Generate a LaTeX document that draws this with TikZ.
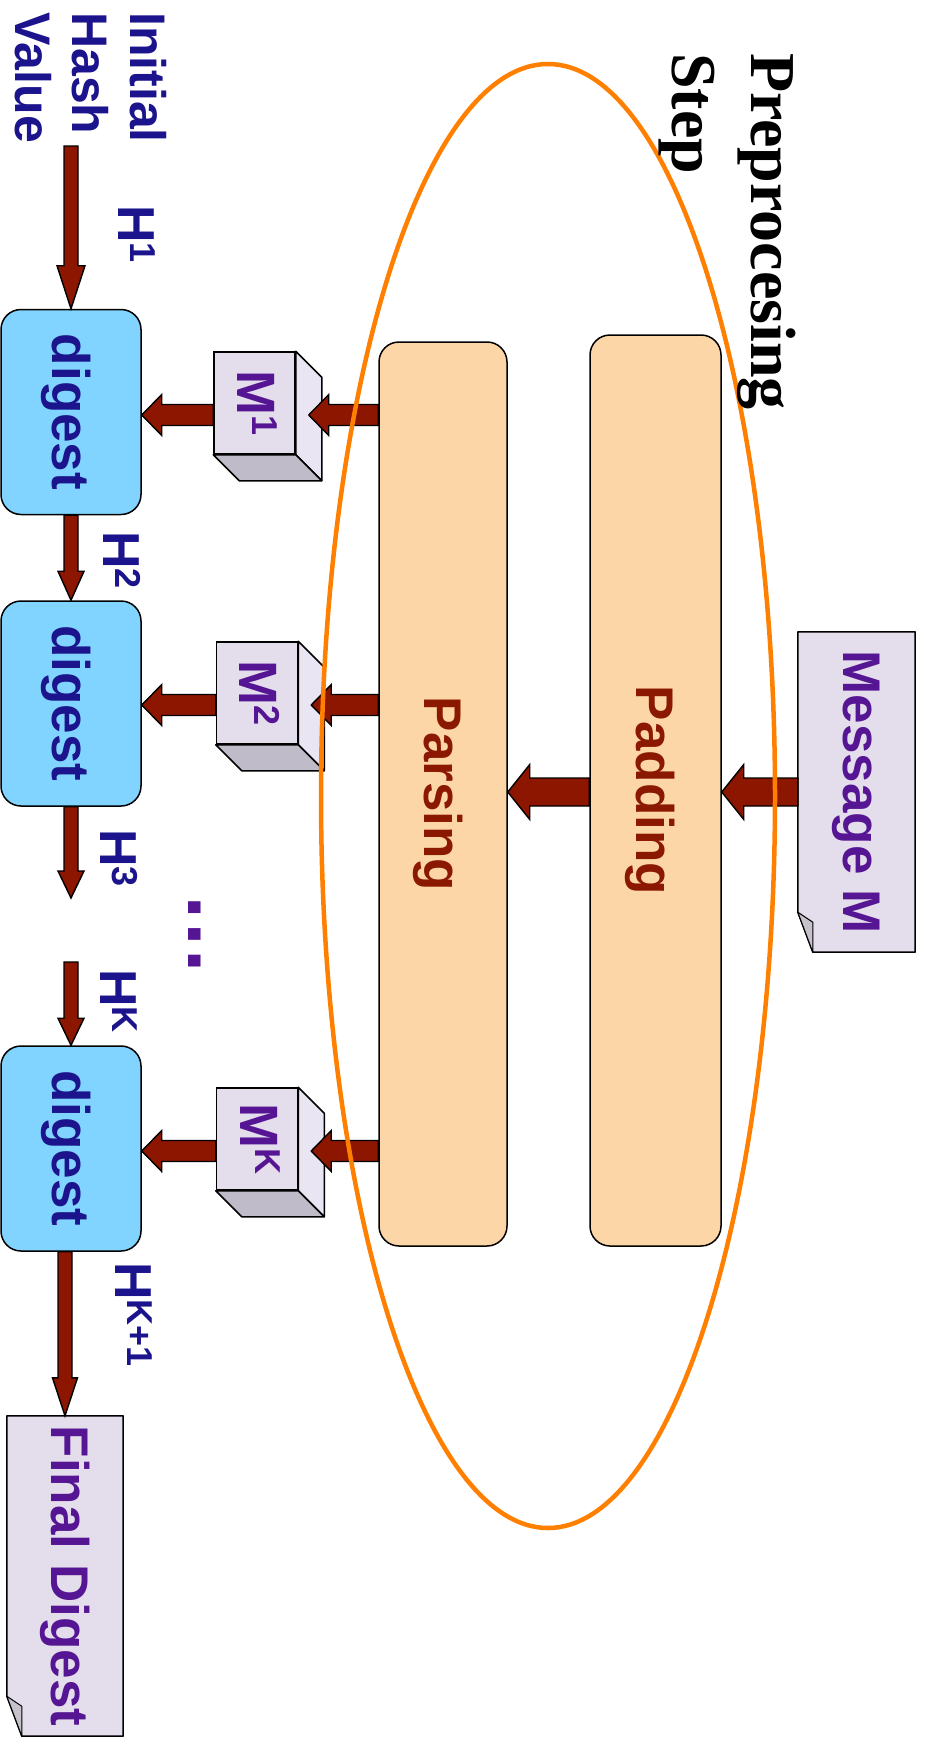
\documentclass[tikz,border=0pt]{standalone}
\usepackage{fontspec}
\setmainfont{Liberation Sans}
\newfontfamily\titleserif{Liberation Serif}
\usetikzlibrary{calc,shapes.geometric}

\definecolor{hvnavy}{RGB}{28,20,140}
\definecolor{hvviolet}{RGB}{86,22,148}
\definecolor{hvbrick}{RGB}{139,24,0}
\definecolor{hvarrow}{RGB}{140,22,0}
\definecolor{hvsky}{RGB}{128,212,255}
\definecolor{hvpeach}{RGB}{252,214,166}
\definecolor{hvlav}{RGB}{228,222,236}
\definecolor{hvlavlight}{RGB}{234,229,242}
\definecolor{hvlavdark}{RGB}{192,187,200}
\definecolor{hvfold}{RGB}{198,194,204}
\definecolor{hvring}{RGB}{255,128,0}

\newcommand\fsz[2]{\fontsize{#1pt}{#2pt}\selectfont}
\newcommand\sups[2]{\raisebox{#1}{\fontsize{36pt}{36pt}\selectfont #2}}

\tikzset{
  box/.style={draw=black, line width=1.5pt, rounded corners=20pt, inner sep=0pt},
  digestbox/.style={box, fill=hvsky, minimum width=140pt, minimum height=205pt},
  stagebox/.style={box, fill=hvpeach},
  cubefront/.style={draw=black, line width=1.5pt, fill=hvlav, minimum width=81pt, minimum height=102pt, inner sep=0pt},
  cubeside/.style={draw=black, line width=1.5pt, fill=hvlavlight, line join=round},
  cubebottom/.style={draw=black, line width=1.5pt, fill=hvlavdark, line join=round},
  docarea/.style={inner sep=0pt, minimum width=117pt, minimum height=320pt},
  docline/.style={draw=black, line width=1.5pt, fill=hvlav, line join=round},
  foldpart/.style={draw=black, line width=1pt, fill=hvfold, line join=round},
  blockarrow/.style={draw=black, line width=1.4pt, fill=hvarrow},
  vtext/.style={rotate=-90, inner sep=0pt},
  bigsans/.style={font=\fsz{53}{53}\bfseries},
}

% fat outlined arrow: tail, tip, half shaft, half head, head length
\newcommand\fatarrow[5]{%
  \coordinate (fab) at ($(#2)!#5!(#1)$);
  \draw[blockarrow] ($(#1)!#3!90:(#2)$) -- ($(fab)!#3!90:(#2)$) -- ($(fab)!#4!90:(#2)$)
    -- (#2) -- ($(fab)!#4!-90:(#2)$) -- ($(fab)!#3!-90:(#2)$) -- ($(#1)!#3!-90:(#2)$) -- cycle;
}

% side and bottom faces of a block drawn behind a front face node
\newcommand\cubefaces[1]{%
  \draw[cubeside] (#1.north east) -- ++(26,26) -- ($(#1.south east)+(26,26)$) -- (#1.south east) -- cycle;
  \draw[cubebottom] (#1.south west) -- ++(26,26) -- ($(#1.south east)+(26,26)$) -- (#1.south east) -- cycle;
}

% document outline with folded lower-left corner
\newcommand\docshape[1]{%
  \draw[docline] (#1.north west) -- (#1.north east) -- (#1.south east)
    -- ($(#1.south west)+(15,0)$) -- ($(#1.south west)+(0,-40)$) -- cycle;
  \draw[foldpart] ($(#1.south west)+(0,-40)$) -- ($(#1.south west)+(15,-30)$) -- ($(#1.south west)+(15,0)$) -- cycle;
}

\begin{document}
\begin{tikzpicture}[x=1pt,y=-1pt]
\useasboundingbox (0,0) rectangle (924,1737);
\fill[white] (0,0) rectangle (924,1737);

% preprocessing stages
\node[stagebox, minimum width=131pt, minimum height=911pt] (pad) at (655.5,790.5) {};
\node[stagebox, minimum width=128pt, minimum height=904pt] (parse) at (443,794) {};
\node[vtext, bigsans, text=hvbrick] (padt) at ($(pad)+(-5,0)$) {Padding};
\node[vtext, bigsans, text=hvbrick] (parset) at ($(parse)+(-5,0)$) {Parsing};

% input message
\node[docarea] (msg) at (856.5,792) {};
\docshape{msg}
\node[vtext, bigsans, text=hvviolet] (msgt) at (msg) {Message M};

% message blocks
\node[cubefront] (m1) at (254.5,403) {};
\cubefaces{m1}
\node[cubefront] (m2) at (257,693) {};
\cubefaces{m2}
\node[cubefront] (mk) at (257,1139) {};
\cubefaces{mk}
\node[vtext, font=\fsz{54}{54}\bfseries, text=hvviolet] (m1t) at ($(m1)+(3,0)$) {M\sups{15pt}{1}};
\node[vtext, font=\fsz{54}{54}\bfseries, text=hvviolet] (m2t) at ($(m2)+(3,0)$) {M\sups{15pt}{2}};
\node[vtext, font=\fsz{54}{54}\bfseries, text=hvviolet] (mkt) at ($(mk)+(3,0)$) {M\sups{15pt}{K}};
\coordinate (m1s) at ($(m1.east)+(13,12)$);
\coordinate (m2s) at ($(m2.east)+(13,12)$);
\coordinate (mks) at ($(mk.east)+(13,12)$);

% compression steps
\node[digestbox] (d1) at (71,412) {};
\node[digestbox] (d2) at (71,703.5) {};
\node[digestbox] (dk) at (71,1148.5) {};
\node[vtext, bigsans, text=hvnavy] (d1t) at ($(d1)+(-5,0)$) {digest};
\node[vtext, bigsans, text=hvnavy] (d2t) at ($(d2)+(-5,0)$) {digest};
\node[vtext, bigsans, text=hvnavy] (dkt) at ($(dk)+(-5,0)$) {digest};

% result
\node[docarea, minimum width=116pt] (fin) at (65,1576) {};
\docshape{fin}
\node[vtext, bigsans, text=hvviolet] (fint) at (fin) {Final Digest};

% message flow
\coordinate (pa1) at (msg.west -| pad.east);
\coordinate (pa2) at (msg.west -| pad.west);
\coordinate (pa3) at (msg.west -| parse.east);
\fatarrow{msg.west}{pa1}{14pt}{27.5pt}{22pt}
\fatarrow{pa2}{pa3}{14pt}{27.5pt}{22pt}

\foreach \m/\d in {m1/d1, m2/d2, mk/dk}{
  \coordinate (pt) at (\m s -| parse.west);
  \fatarrow{pt}{\m s}{10.5pt}{20.5pt}{20pt}
  \coordinate (ct) at (\m s -| \m.west);
  \coordinate (dt) at (\m s -| \d.east);
  \fatarrow{ct}{dt}{10.5pt}{20.5pt}{20pt}
}

% hash chain
\coordinate (h1start) at (71,146);
\coordinate (h3end) at (71,898);
\coordinate (hkstart) at (71,962);
\coordinate (hlast) at (dk.south -| fin.north);
\fatarrow{h1start}{d1.north}{7pt}{14pt}{43pt}
\fatarrow{d1.south}{d2.north}{7pt}{13pt}{29pt}
\fatarrow{d2.south}{h3end}{7pt}{13pt}{27pt}
\fatarrow{hkstart}{dk.north}{7pt}{13pt}{27pt}
\fatarrow{hlast}{fin.north}{7pt}{12.5pt}{38pt}

% preprocessing boundary
\node[draw=hvring, line width=4.5pt, ellipse, minimum width=454pt, minimum height=1464pt, inner sep=0pt] (ring) at (548,796) {};

% labels
\node[vtext, font=\fsz{50}{57.5}\bfseries, text=hvnavy, align=left, anchor=north west] (ihv) at (166.5,12) {Initial\\Hash\\Value};
\node[vtext, font=\fsz{52}{52}\bfseries, text=hvnavy, anchor=base west] (h1) at (118,205) {H\sups{12pt}{1}};
\node[vtext, font=\fsz{52}{52}\bfseries, text=hvnavy, anchor=base west] (h2) at (103,531) {H\sups{12pt}{2}};
\node[vtext, font=\fsz{52}{52}\bfseries, text=hvnavy, anchor=base west] (h3) at (100,829) {H\sups{12pt}{3}};
\node[vtext, font=\fsz{52}{52}\bfseries, text=hvnavy, anchor=base west] (hk) at (100,969) {H\sups{12pt}{K}};
\node[vtext, font=\fsz{52}{52}\bfseries, text=hvnavy, anchor=base west] (hk1) at (115,1262) {H\sups{12pt}{K+1}};
\node[vtext, font=\fsz{84}{84}\bfseries, text=hvviolet, anchor=base] (dots) at (188,934) {…};
\node[vtext, font=\titleserif\bfseries\fsz{64}{79}, align=left, anchor=north west] (prep) at (796,53) {Preprocesing\\Step};
\end{tikzpicture}
\end{document}
